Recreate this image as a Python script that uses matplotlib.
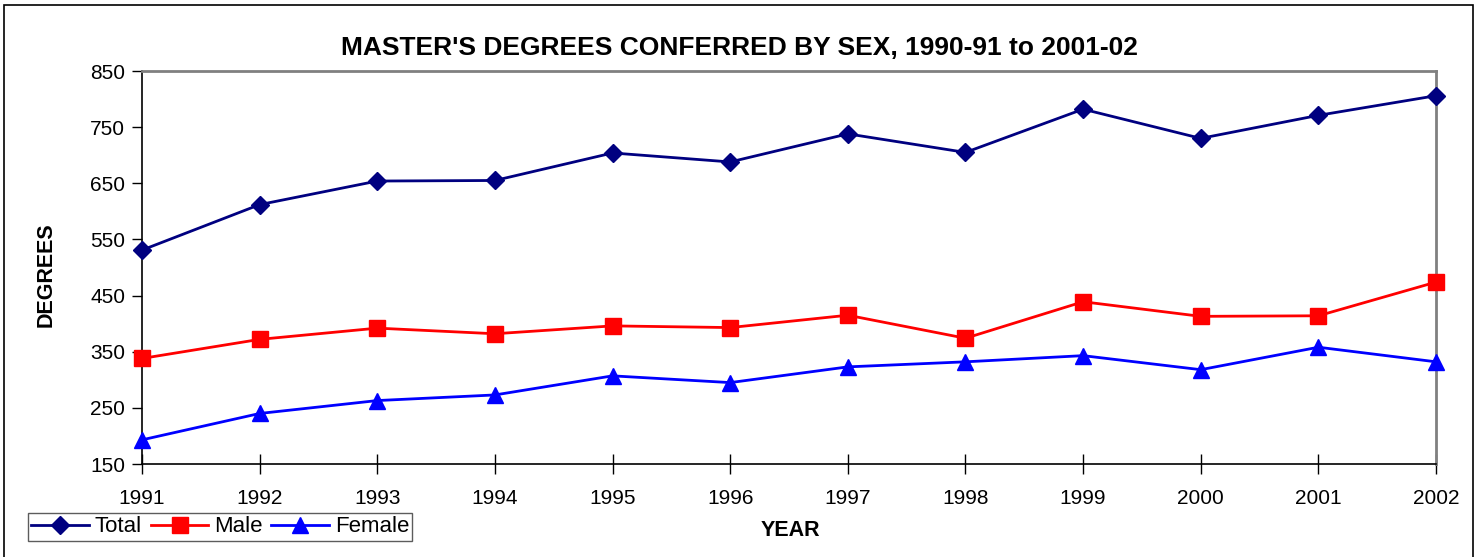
import matplotlib
matplotlib.use("Agg")
import matplotlib.pyplot as plt
from matplotlib.patches import Rectangle

plt.rcParams['font.family'] = ['Liberation Sans', 'DejaVu Sans']

years = [1991, 1992, 1993, 1994, 1995, 1996, 1997, 1998, 1999, 2000, 2001, 2002]
total = [531, 612, 654, 655, 704, 688, 738, 705, 782, 730, 771, 806]
male = [338, 372, 392, 382, 396, 393, 415, 374, 439, 413, 414, 474]
female = [193, 240, 263, 273, 307, 295, 323, 332, 343, 318, 358, 332]
y_ticks = [150, 250, 350, 450, 550, 650, 750, 850]

W, H = 1483, 557
fig = plt.figure(figsize=(W / 100, H / 100), dpi=100)
ax = fig.add_axes([142 / W, 1 - 464 / H, (1436 - 142) / W, (464 - 71) / H])

# outer chart border
fig.patches.append(Rectangle((4 / W, -0.1), (1473 - 4) / W, 1.1 - 5 / H,
                             transform=fig.transFigure, fill=False,
                             edgecolor='black', linewidth=1.2, zorder=0))

ax.plot(years, total, color='#000080', marker='D', markersize=9, linewidth=2,
        label='Total', clip_on=False, zorder=3)
ax.plot(years, male, color='#FF0000', marker='s', markersize=11, linewidth=2,
        label='Male', clip_on=False, zorder=3)
ax.plot(years, female, color='#0000FF', marker='^', markersize=12, linewidth=2,
        label='Female', clip_on=False, zorder=3)

ax.set_xlim(years[0], years[-1])
ax.set_ylim(150, 850)
ax.set_xticks(years)
ax.set_xticklabels([str(y) for y in years])
ax.set_yticks(y_ticks)

ax.tick_params(axis='y', direction='out', length=7, width=1, labelsize=15, pad=5)
ax.tick_params(axis='x', direction='inout', length=14, width=1, labelsize=15, pad=11)

for s in ['top', 'right']:
    ax.spines[s].set_color('#808080')
    ax.spines[s].set_linewidth(2)
for s in ['left', 'bottom']:
    ax.spines[s].set_color('black')
    ax.spines[s].set_linewidth(1.2)

fig.text(739 / W, 1 - 48 / H, "MASTER'S DEGREES CONFERRED BY SEX, 1990-91 to 2001-02",
         fontsize=19, fontweight='bold', ha='center', va='center')
ax.set_ylabel('DEGREES', fontsize=15.5, fontweight='bold')
ax.yaxis.set_label_coords((57 - 142) / 1294, (464 - 275) / 393)
fig.text(790 / W, 1 - 531 / H, 'YEAR', fontsize=15.5, fontweight='bold',
         ha='center', va='center')

leg = fig.legend(loc='center left', bbox_to_anchor=(28 / W, 1 - 527 / H),
                 ncol=3, fontsize=16, frameon=True, fancybox=False,
                 handlelength=2.6, handletextpad=0.25, columnspacing=0.4,
                 borderpad=0.15, borderaxespad=0)
leg.get_frame().set_edgecolor('#333333')
leg.get_frame().set_linewidth(1)

fig.savefig('out.png', dpi=100)
